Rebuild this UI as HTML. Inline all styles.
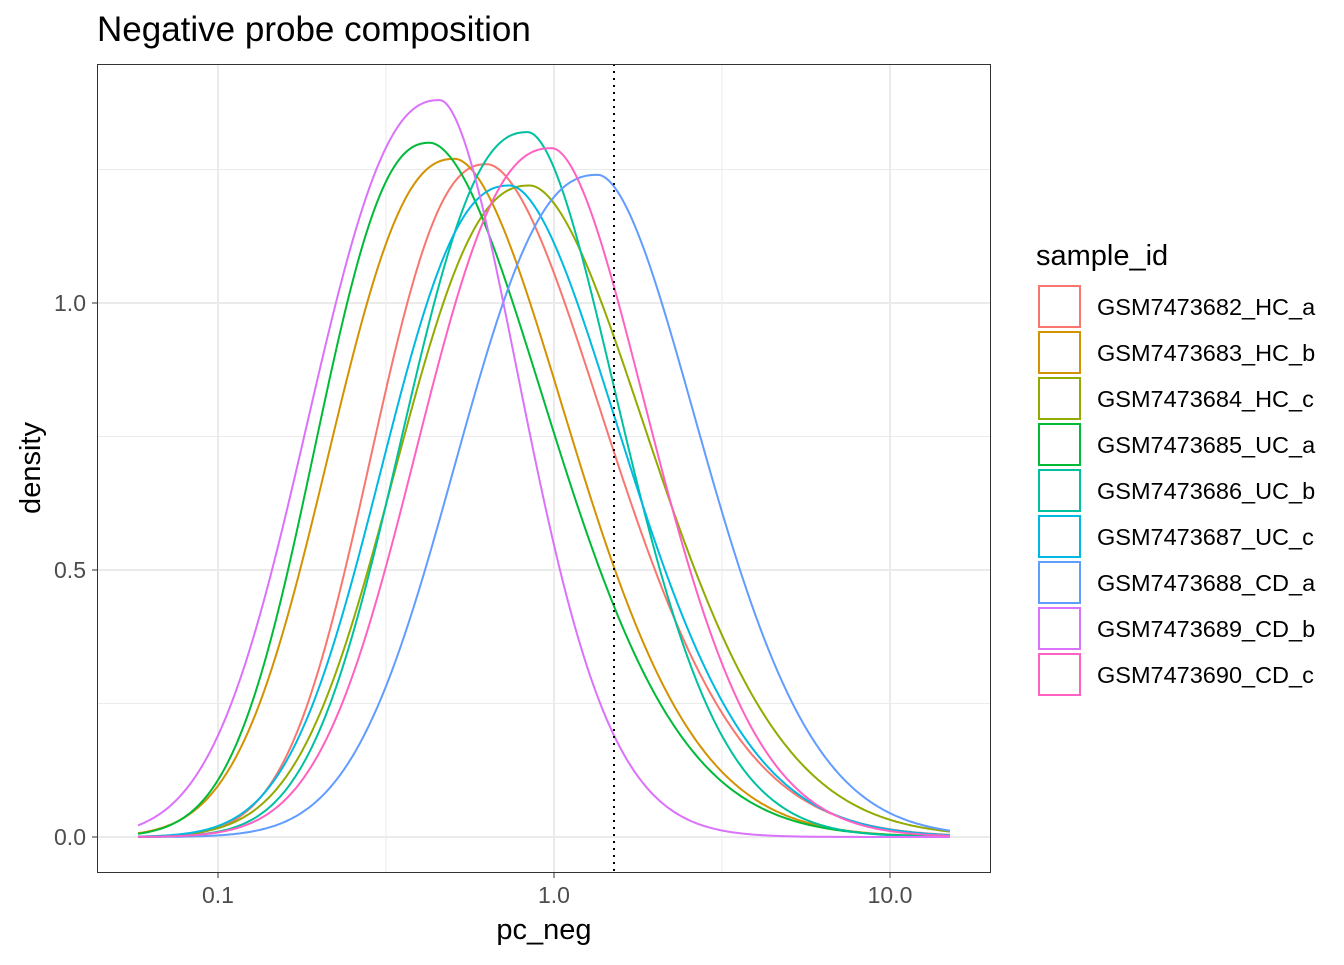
<!DOCTYPE html>
<html><head><meta charset="utf-8"><style>
body{margin:0;background:#fff;}
svg text{font-family:"Liberation Sans",Arial,sans-serif;}
</style></head><body>
<svg id="s" width="1344" height="960" xmlns="http://www.w3.org/2000/svg">
<rect width="1344" height="960" fill="#fff"/>
<text x="97" y="41" font-size="35" fill="#000">Negative probe composition</text>
<g stroke="#EBEBEB" stroke-width="1">
<line x1="97" x2="991" y1="703.5" y2="703.5"/><line x1="97" x2="991" y1="436.5" y2="436.5"/><line x1="97" x2="991" y1="169.5" y2="169.5"/>
<line y1="64" y2="873" x1="386" x2="386"/><line y1="64" y2="873" x1="722" x2="722"/>
</g>
<g stroke="#EBEBEB" stroke-width="2">
<line x1="97" x2="991" y1="837" y2="837"/><line x1="97" x2="991" y1="570" y2="570"/><line x1="97" x2="991" y1="303" y2="303"/>
<line y1="64" y2="873" x1="218" x2="218"/><line y1="64" y2="873" x1="554" x2="554"/><line y1="64" y2="873" x1="890" x2="890"/>
</g>
<g id="curves" fill="none" stroke-width="2"></g>
<line x1="614" x2="614" y1="64" y2="873" stroke="#000" stroke-width="2" stroke-dasharray="2,5"/>
<rect x="97.5" y="64.5" width="893" height="808" fill="none" stroke="#333" stroke-width="1"/>
<g stroke="#333" stroke-width="1">
<line x1="92" x2="97" y1="837" y2="837"/><line x1="92" x2="97" y1="570" y2="570"/><line x1="92" x2="97" y1="303" y2="303"/>
<line y1="873" y2="878" x1="218" x2="218"/><line y1="873" y2="878" x1="554" x2="554"/><line y1="873" y2="878" x1="890" x2="890"/>
</g>
<g font-size="23" fill="#4D4D4D">
<text x="86" y="845" text-anchor="end">0.0</text><text x="86" y="578" text-anchor="end">0.5</text><text x="86" y="311" text-anchor="end">1.0</text>
<text x="218" y="903" text-anchor="middle">0.1</text><text x="554" y="903" text-anchor="middle">1.0</text><text x="890" y="903" text-anchor="middle">10.0</text>
</g>
<text x="544" y="939" text-anchor="middle" font-size="29">pc_neg</text>
<text transform="translate(40,468) rotate(-90)" text-anchor="middle" font-size="29">density</text>
<text x="1036" y="265" font-size="29">sample_id</text>
<g id="leg"></g>
</svg>
<script>
var d=[["GSM7473682_HC_a","#F8766D",487,1.26,345,655],
["GSM7473683_HC_b","#D39200",455,1.27,300,615],
["GSM7473684_HC_c","#93AA00",530,1.22,368,695],
["GSM7473685_UC_a","#00BA38",430,1.30,288,600],
["GSM7473686_UC_b","#00C19F",528,1.32,370,660],
["GSM7473687_UC_c","#00B9E3",510,1.22,355,665],
["GSM7473688_CD_a","#619CFF",598,1.24,425,740],
["GSM7473689_CD_b","#DB72FB",440,1.38,272,560],
["GSM7473690_CD_c","#FF61C3",552,1.29,385,690]];
var g=document.getElementById("curves"),lg=document.getElementById("leg"),ns="http://www.w3.org/2000/svg";
var PL=2.4,PR=1.8;
d.forEach(function(c,i){
 var L=2*Math.log(c[3]/0.5),kl=Math.pow(L,1/PL),kr=Math.pow(L,1/PR),sl=(c[2]-c[4])/kl,sr=(c[5]-c[2])/kr,pts=[];
 for(var x=138;x<=951;x+=2){var s=x<c[2]?sl:sr,P=x<c[2]?PL:PR;var y=c[3]*Math.exp(-0.5*Math.pow(Math.abs(x-c[2])/s,P));pts.push(x+","+(837-y*534).toFixed(1));}
 var p=document.createElementNS(ns,"polyline");p.setAttribute("points",pts.join(" "));p.setAttribute("stroke",c[1]);g.appendChild(p);
 var y0=286+i*46;
 var r=document.createElementNS(ns,"rect");r.setAttribute("x",1039);r.setAttribute("y",y0);r.setAttribute("width",41);r.setAttribute("height",41);r.setAttribute("fill","#fff");r.setAttribute("stroke",c[1]);r.setAttribute("stroke-width",2);lg.appendChild(r);
 var t=document.createElementNS(ns,"text");t.setAttribute("x",1097);t.setAttribute("y",y0+29);t.setAttribute("font-size",23.5);t.textContent=c[0];lg.appendChild(t);
});
</script>
</body></html>
